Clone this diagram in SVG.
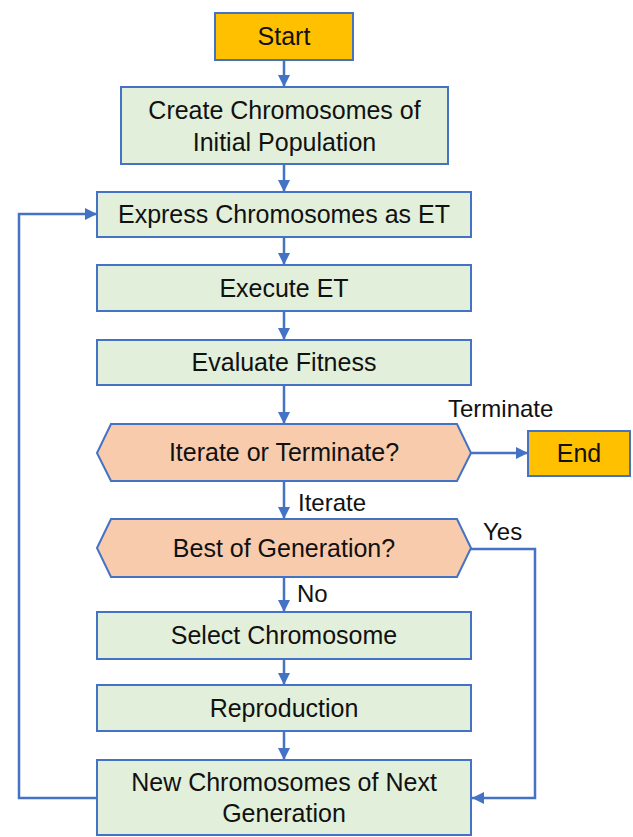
<svg xmlns="http://www.w3.org/2000/svg" width="633" height="837" viewBox="0 0 633 837">
<style>
.term{fill:#FFC000;stroke:#4472C4;stroke-width:2}
.proc{fill:#E2EFDA;stroke:#4472C4;stroke-width:2}
.dec{fill:#F8CBAD;stroke:#4472C4;stroke-width:2}
.t{font-family:"Liberation Sans",Arial,sans-serif;font-size:25px;fill:#111;text-anchor:middle}
.lbl{font-family:"Liberation Sans",Arial,sans-serif;font-size:24px;fill:#111}
.c{fill:none;stroke:#4472C4;stroke-width:2.5}
</style>
<defs>
<marker id="ah" markerUnits="userSpaceOnUse" markerWidth="12" markerHeight="12" viewBox="0 0 12 12" refX="12" refY="6" orient="auto">
<path d="M0,0 L12,6 L0,12 Z" fill="#4472C4"/>
</marker>
</defs>
<g id="connectors">
<line class="c" x1="284" y1="60" x2="284" y2="87" marker-end="url(#ah)"/>
<line class="c" x1="284" y1="164" x2="284" y2="192" marker-end="url(#ah)"/>
<line class="c" x1="284" y1="237" x2="284" y2="265" marker-end="url(#ah)"/>
<line class="c" x1="284" y1="311" x2="284" y2="340" marker-end="url(#ah)"/>
<line class="c" x1="284" y1="385" x2="284" y2="424" marker-end="url(#ah)"/>
<line class="c" x1="471" y1="453" x2="528" y2="453" marker-end="url(#ah)"/>
<line class="c" x1="284" y1="481" x2="284" y2="519" marker-end="url(#ah)"/>
<line class="c" x1="284" y1="577" x2="284" y2="612" marker-end="url(#ah)"/>
<line class="c" x1="284" y1="659" x2="284" y2="685" marker-end="url(#ah)"/>
<line class="c" x1="284" y1="731" x2="284" y2="760" marker-end="url(#ah)"/>
<polyline class="c" points="471,549 535,549 535,798 472,798" marker-end="url(#ah)"/>
<polyline class="c" points="97,798 19,798 19,214 97,214" marker-end="url(#ah)"/>
<text class="lbl" x="448" y="417">Terminate</text>
<text class="lbl" x="298" y="511">Iterate</text>
<text class="lbl" x="483" y="540">Yes</text>
<text class="lbl" x="297" y="602">No</text>
</g>
<g id="start"><rect class="term" x="215" y="13" width="138" height="47"/><text class="t" x="284" y="45">Start</text></g>
<g id="create"><rect class="proc" x="121" y="87" width="327" height="77"/><text class="t" x="284.5" y="119">Create Chromosomes of</text><text class="t" x="284.5" y="151">Initial Population</text></g>
<g id="express"><rect class="proc" x="97" y="192" width="374" height="45"/><text class="t" x="284" y="223">Express Chromosomes as ET</text></g>
<g id="execute"><rect class="proc" x="97" y="265" width="374" height="46"/><text class="t" x="284" y="297">Execute ET</text></g>
<g id="evaluate"><rect class="proc" x="97" y="340" width="374" height="45"/><text class="t" x="284" y="371">Evaluate Fitness</text></g>
<g id="iterate"><polygon class="dec" points="97,453 111,424 457,424 471,453 457,481 111,481"/><text class="t" x="284" y="461">Iterate or Terminate?</text></g>
<g id="end"><rect class="term" x="528" y="431" width="102" height="45"/><text class="t" x="579" y="462">End</text></g>
<g id="best"><polygon class="dec" points="97,548 111,519 457,519 471,548 457,577 111,577"/><text class="t" x="284" y="557">Best of Generation?</text></g>
<g id="select"><rect class="proc" x="97" y="612" width="374" height="47"/><text class="t" x="284" y="644">Select Chromosome</text></g>
<g id="reproduction"><rect class="proc" x="97" y="685" width="374" height="46"/><text class="t" x="284" y="717">Reproduction</text></g>
<g id="newgen"><rect class="proc" x="97" y="760" width="374" height="75"/><text class="t" x="284" y="791">New Chromosomes of Next</text><text class="t" x="284" y="822">Generation</text></g>
</svg>
